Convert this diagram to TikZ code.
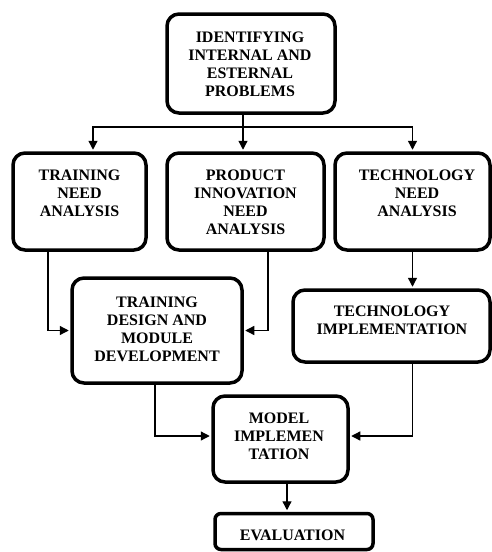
\documentclass[tikz,border=0pt]{standalone}
\usepackage{fontspec}
\setmainfont{Liberation Serif}
\usetikzlibrary{arrows.meta}
\begin{document}
\begin{tikzpicture}[x=1pt,y=-1pt,
  boxx/.style={draw, line width=3.5pt, rounded corners=12pt, inner sep=0pt},
  lbl/.style={font=\bfseries\fontsize{16}{18}\selectfont, align=center, inner sep=0pt, anchor=north},
  ln/.style={line width=1.3pt},
  arr/.style={line width=1.3pt, -{Triangle[length=9pt,width=9pt]}, shorten >=1.5pt}]
\useasboundingbox (0,0) rectangle (492,552);
% boxes
\node[boxx, minimum width=168pt, minimum height=99pt] (top) at (251,63.5) {};
\node[boxx, minimum width=133pt, minimum height=97pt] (tna) at (79.5,201.5) {};
\node[boxx, minimum width=157pt, minimum height=97pt] (pina) at (245.5,201.5) {};
\node[boxx, minimum width=155pt, minimum height=97pt] (techna) at (412.5,201.5) {};
\node[boxx, minimum width=170pt, minimum height=105pt] (tdmd) at (157,330.5) {};
\node[boxx, minimum width=197pt, minimum height=72pt] (techimpl) at (391.5,326) {};
\node[boxx, minimum width=135pt, minimum height=86pt] (mi) at (280.5,439) {};
\node[boxx, rounded corners=6pt, minimum width=158pt, minimum height=36pt] (eval) at (294,531.5) {};
% labels
\node[lbl] (ttop) at (250,32) {IDENTIFYING\\INTERNAL AND\\ESTERNAL\\PROBLEMS};
\node[lbl] (ttna) at (79.5,170) {TRAINING\\NEED\\ANALYSIS};
\node[lbl] (tpina) at (245.5,170) {PRODUCT\\INNOVATION\\NEED\\ANALYSIS};
\node[lbl] (ttechna) at (417,170) {TECHNOLOGY\\NEED\\ANALYSIS};
\node[lbl] (ttdmd) at (157,297) {TRAINING\\DESIGN AND\\MODULE\\DEVELOPMENT};
\node[lbl] (ttechimpl) at (392,306) {TECHNOLOGY\\IMPLEMENTATION};
\node[lbl] (tmi) at (279,413) {MODEL\\IMPLEMEN\\TATION};
\node[lbl] (teval) at (292.5,530) {EVALUATION};
% connectors
\coordinate (j1) at (243,127);
\draw[ln] (top.south -| j1) -- (j1);
\draw[arr] (j1) -| ([xshift=13.5pt]tna.north);
\draw[arr] (j1) -- (pina.north -| j1);
\draw[arr] (j1) -| (techna.north);
\draw[arr] ([xshift=-31.5pt]tna.south) |- (tdmd.west);
\draw[arr] ([xshift=22.5pt]pina.south) |- (tdmd.east);
\draw[arr] (techna.south) -- (techimpl.north -| techna.south);
\draw[arr] ([xshift=-2pt]tdmd.south) |- ([yshift=3pt]mi.west);
\draw[arr] (techimpl.south -| techna.south) |- ([yshift=3pt]mi.east);
\draw[arr] ([xshift=6.5pt]mi.south) -- ([xshift=6.5pt]mi.south |- eval.north);
\end{tikzpicture}
\end{document}
